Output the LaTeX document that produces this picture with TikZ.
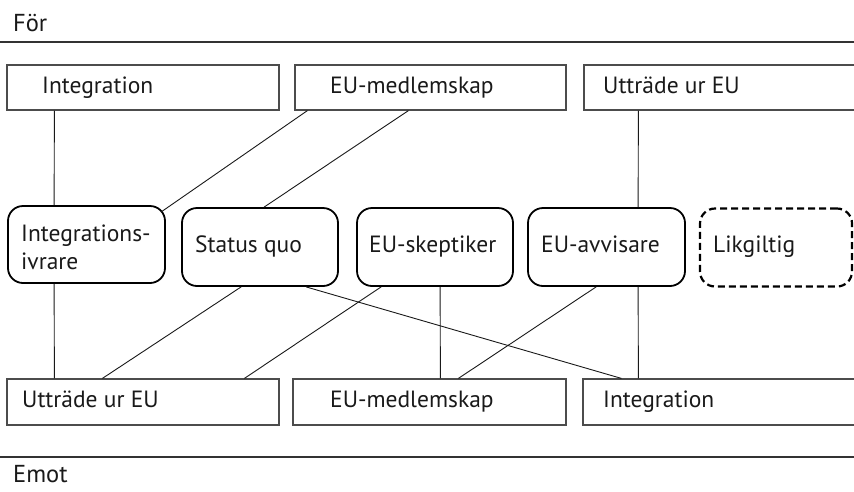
\documentclass[tikz,border=0pt]{standalone}
\usepackage{fontspec}
\setmainfont{PT Sans}
\begin{document}
\begin{tikzpicture}[x=1pt,y=-1pt,
  sq/.style={draw=black!70,line width=1.2pt,minimum height=45pt,inner sep=0pt},
  rb/.style={draw=black,line width=1.8pt,rounded corners=15pt,minimum height=78pt,inner sep=0pt},
  dashbox/.style={rb,dash pattern=on 7pt off 4pt,line width=2.2pt},
  lbl/.style={font=\fontsize{23.5}{28}\selectfont,inner sep=0pt,text=black!90},
  head/.style={font=\fontsize{24.5}{28}\selectfont,inner sep=0pt,anchor=base west,text=black!90},
  link/.style={draw=black!90,line width=0.9pt},
  sep/.style={draw=black!80,line width=1.2pt}]
\useasboundingbox (0,0) rectangle (854,491);
\clip (0,0) rectangle (854,491);

% headings and separators
\node[head] (for) at (13,31) {För};
\node[head] (emot) at (13,482) {Emot};
\coordinate (s1l) at (0,42);  \coordinate (s1r) at (860,42);
\coordinate (s2l) at (0,457); \coordinate (s2r) at (860,457);
\draw[sep] (s1l) -- (s1r);
\draw[sep] (s2l) -- (s2r);

% top boxes
\node[sq,minimum width=272pt] (t1) at (143,87.5) {};
\node[sq,minimum width=271pt] (t2) at (430.5,87.5) {};
\node[sq,minimum width=316pt] (t3) at (742,87.5) {};
\node[lbl,anchor=base west] (t1l) at (42,93) {Integration};
\node[lbl,anchor=base west] (t2l) at (330,93) {EU-medlemskap};
\node[lbl,anchor=base west] (t3l) at (603,93) {Utträde ur EU};

% middle rounded boxes
\node[rb,minimum width=157pt,minimum height=77pt] (r1) at (86.5,244.5) {};
\node[rb,minimum width=156pt] (r2) at (260,247) {};
\node[rb,minimum width=156pt] (r3) at (435,247) {};
\node[rb,minimum width=157pt] (r4) at (606.5,247) {};
\node[dashbox,minimum width=152pt] (r5) at (776,247.5) {};
\node[lbl,anchor=west,align=left] (r1l) at (21,247) {Integrations-\\ivrare};
\node[lbl,anchor=base west] (r2l) at (195,252) {Status quo};
\node[lbl,anchor=base west] (r3l) at (369,252) {EU-skeptiker};
\node[lbl,anchor=base west] (r4l) at (541,252) {EU-avvisare};
\node[lbl,anchor=base west] (r5l) at (713,252) {Likgiltig};

% bottom boxes
\node[sq,minimum width=272pt,minimum height=46pt] (b1) at (143,402) {};
\node[sq,minimum width=273pt,minimum height=46pt] (b2) at (429.5,402) {};
\node[sq,minimum width=317pt,minimum height=46pt] (b3) at (741.5,402) {};
\node[lbl,anchor=base west] (b1l) at (22,407) {Utträde ur EU};
\node[lbl,anchor=base west] (b2l) at (330,407) {EU-medlemskap};
\node[lbl,anchor=base west] (b3l) at (603,407) {Integration};

% connectors: top to middle
\draw[link] ([xshift=48pt]t1.south west) -- ([xshift=47pt]r1.north west);
\draw[link] ([xshift=13pt]t2.south west) -- ([shift={(-5pt,-7pt)}]r1.north east);
\draw[link] ([xshift=114pt]t2.south west) -- ([xshift=83pt]r2.north west);
\draw[link] ([xshift=55pt]t3.south west) -- ([xshift=111pt]r4.north west);

% connectors: middle to bottom
\draw[link] ([xshift=47pt]r1.south west) -- ([xshift=48pt]b1.north west);
\draw[link] ([xshift=60pt]r2.south west) -- ([xshift=96pt]b1.north west);
\draw[link] ([xshift=25pt]r3.south west) -- ([xshift=238pt]b1.north west);
\draw[link] ([xshift=125pt]r2.south west) -- ([xshift=39pt]b3.north west);
\draw[link] ([xshift=84pt]r3.south west) -- ([xshift=148pt]b2.north west);
\draw[link] ([xshift=69pt]r4.south west) -- ([xshift=166pt]b2.north west);
\draw[link] ([xshift=111pt]r4.south west) -- ([xshift=56pt]b3.north west);
\end{tikzpicture}
\end{document}
